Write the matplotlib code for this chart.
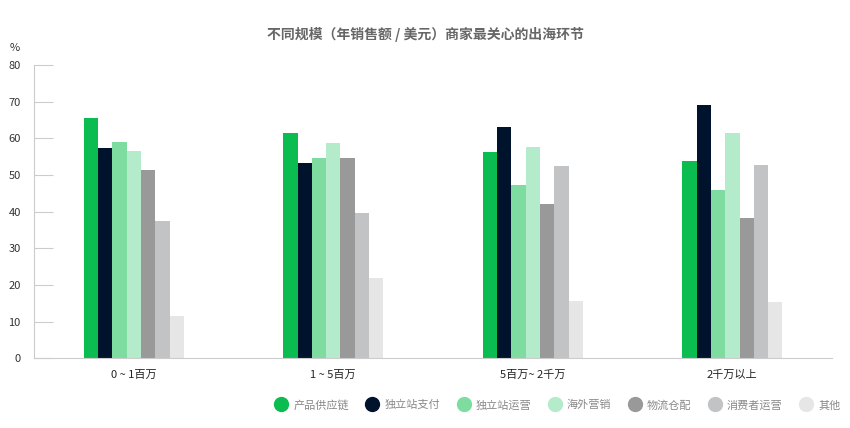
import matplotlib.pyplot as plt
import numpy as np

plt.rcParams['font.family'] = ['Noto Sans CJK SC', 'DejaVu Sans']

# share of merchants (%) by annual sales size
groups = ["0 ~ 1百万", "1 ~ 5百万", "5百万~ 2千万", "2千万以上"]
series = ["产品供应链", "独立站支付", "独立站运营", "海外营销", "物流仓配", "消费者运营", "其他"]
colors = ["#0bbd50", "#00132c", "#7fdca0", "#b4ebca", "#999999", "#c2c3c4", "#e6e6e6"]

supply_chain = [65.6, 61.5, 56.4, 53.7]
payment = [57.4, 53.3, 63.0, 69.1]
site_ops = [59.1, 54.7, 47.3, 46.0]
marketing = [56.5, 58.8, 57.7, 61.4]
logistics = [51.5, 54.7, 42.0, 38.4]
consumer_ops = [37.4, 39.6, 52.5, 52.6]
other = [11.5, 21.9, 15.7, 15.3]

values = [supply_chain, payment, site_ops, marketing, logistics, consumer_ops, other]

fig = plt.figure(figsize=(8.5, 4.28), dpi=100)
ax = fig.add_axes([0.04, 0.163, 0.939, 0.685])

x = np.arange(len(groups))
w = 0.0717
for k, (name, vals, c) in enumerate(zip(series, values, colors)):
    ax.bar(x + (k - 3) * w, vals, width=w, color=c, label=name)

ax.set_xlim(-0.5, 3.5)
ax.set_ylim(0, 80)
ax.set_yticks(range(0, 81, 10))
ax.set_xticks(x)
ax.set_xticklabels(groups, fontsize=8, fontweight='medium', color='#222222')

for s in ['top', 'right']:
    ax.spines[s].set_visible(False)
for s in ['left', 'bottom']:
    ax.spines[s].set_color('#cccccc')

ax.tick_params(axis='y', direction='in', length=14, color='#cccccc', pad=9.5,
               labelsize=8, labelcolor='#333333')
ax.tick_params(axis='x', length=0, pad=8)

fig.text(10 / 850, 1 - 48 / 428, "%", fontsize=8, color='#333333', ha='left', va='center')

fig.suptitle("不同规模（年销售额 / 美元）商家最关心的出海环节", x=0.5, y=1 - 35 / 428,
             va='center', fontsize=10, fontweight='bold', color='#666666')

handles = [plt.Line2D([], [], marker='o', ls='', markersize=10, color=c) for c in colors]
fig.legend(handles, series, loc='center right', bbox_to_anchor=(0.994, 1 - 405 / 428),
           ncol=7, frameon=False, fontsize=8, labelcolor='#888888',
           handletextpad=0.6, columnspacing=1.6, handlelength=1.0, borderaxespad=0)

plt.savefig("out.png", dpi=100)
